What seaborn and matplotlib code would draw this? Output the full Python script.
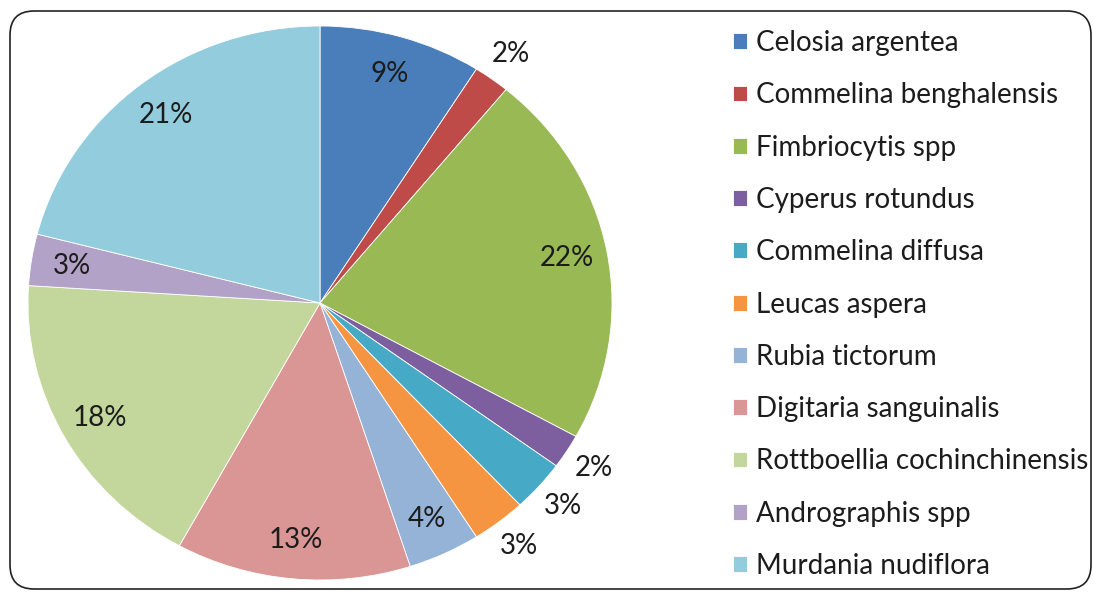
import matplotlib
matplotlib.use("Agg")
import matplotlib.pyplot as plt
from matplotlib.patches import FancyBboxPatch
import numpy as np
import seaborn as sns

species = [
    "Celosia argentea",
    "Commelina benghalensis",
    "Fimbriocytis spp",
    "Cyperus rotundus",
    "Commelina diffusa",
    "Leucas aspera",
    "Rubia tictorum",
    "Digitaria sanguinalis",
    "Rottboellia cochinchinensis",
    "Andrographis spp",
    "Murdania nudiflora",
]
share_pct = [9, 2, 22, 2, 3, 3, 4, 13, 18, 3, 21]
label_outside = [False, True, False, True, True, True, False, False, False, False, False]

slice_colors = [
    "#4a7ebb", "#be4b48", "#98b954", "#7d5fa0", "#46a9c5", "#f59542",
    "#95b3d7", "#d99694", "#c3d69b", "#b3a2c7", "#93cddd",
]

sns.set_theme(style="white")
plt.rcParams["font.family"] = ["Lato", "DejaVu Sans"]

W, H = 1094, 592
fig = plt.figure(figsize=(W / 100, H / 100), dpi=100)
fig.patch.set_facecolor("white")

# rounded outer frame
frame = FancyBboxPatch(
    (10 / W, 3 / H), (1081 / W), (578 / H),
    boxstyle="round,pad=0,rounding_size=0.022",
    transform=fig.transFigure, facecolor="none", edgecolor="#222222",
    linewidth=1.2, mutation_aspect=W / H,
)
fig.patches.append(frame)

# pie axes: slightly wider than tall
ax = fig.add_axes([28 / W, 12 / H, 584 / W, 554 / H])
wedges, _ = ax.pie(
    share_pct,
    colors=sns.color_palette(slice_colors),
    startangle=90,
    counterclock=False,
    wedgeprops=dict(edgecolor="white", linewidth=0.6),
)
ax.set_aspect("auto")
ax.set_xlim(-1, 1)
ax.set_ylim(-1, 1)
ax.axis("off")
for w in wedges:
    w.set_clip_on(False)

for w, v, out in zip(wedges, share_pct, label_outside):
    mid = np.deg2rad((w.theta1 + w.theta2) / 2)
    r = 1.11 if out else 0.86
    ax.text(r * np.cos(mid), r * np.sin(mid), f"{v}%", ha="center", va="center",
            fontsize=20, color="#1c1c1c", clip_on=False)

leg = fig.legend(
    wedges, species,
    loc="upper left", bbox_to_anchor=(733 / W, 1 - 30 / H),
    bbox_transform=fig.transFigure,
    frameon=False, fontsize=20,
    handlelength=0.5, handleheight=0.5, handletextpad=0.32,
    labelspacing=0.947, borderpad=0, borderaxespad=0,
)
for t in leg.get_texts():
    t.set_color("#1c1c1c")

fig.savefig("out.png", dpi=100, facecolor="white")
